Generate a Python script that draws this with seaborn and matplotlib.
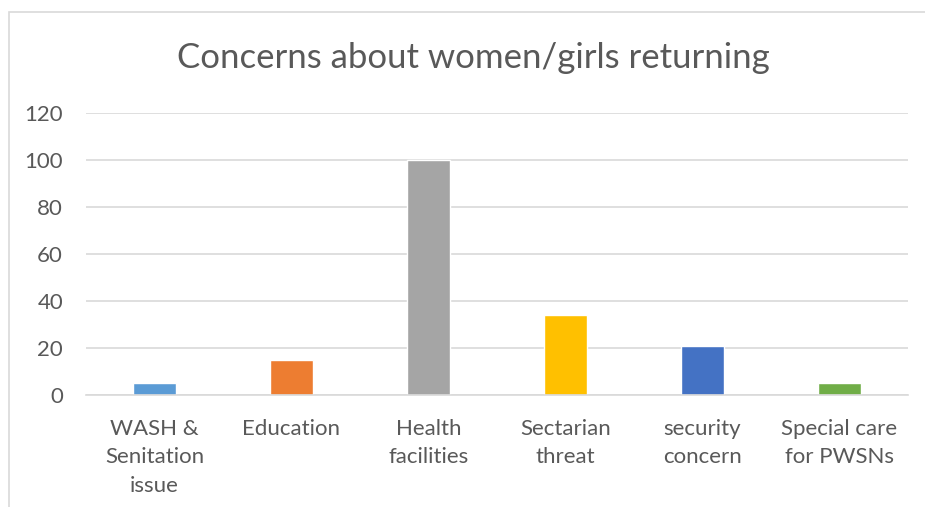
import matplotlib
matplotlib.use("Agg")
import matplotlib.pyplot as plt
import seaborn as sns
import pandas as pd
from matplotlib.patches import Rectangle

categories = ["WASH &\nSenitation\nissue", "Education", "Health\nfacilities",
              "Sectarian\nthreat", "security\nconcern", "Special care\nfor PWSNs"]
values = [5, 15, 100, 34, 21, 5]
colors = ["#5B9BD5", "#ED7D31", "#A5A5A5", "#FFC000", "#4472C4", "#70AD47"]
yticks = [0, 20, 40, 60, 80, 100, 120]
title = "Concerns about women/girls returning"

sns.set_theme(style="white")
plt.rcParams["font.family"] = ["Lato", "DejaVu Sans"]
text_color = "#595959"

df = pd.DataFrame({"category": categories, "value": values})

fig = plt.figure(figsize=(9.25, 5.07), dpi=100)
ax = fig.add_axes([86 / 925, 1 - 395 / 507, (908 - 86) / 925, (395 - 113) / 507])

sns.barplot(data=df, x="category", y="value", hue="category", palette=colors,
            legend=False, width=0.32, ax=ax, saturation=1)

ax.set_ylim(0, 120)
ax.set_yticks(yticks)
ax.set_xlim(-0.5, len(categories) - 0.5)
ax.yaxis.grid(True, color="#D9D9D9", linewidth=1.2)
ax.set_axisbelow(True)
for side in ["top", "right", "left"]:
    ax.spines[side].set_visible(False)
ax.spines["bottom"].set_color("#D9D9D9")
ax.spines["bottom"].set_linewidth(1.2)
ax.set_xlabel("")
ax.set_ylabel("")
ax.tick_params(axis="y", length=0, pad=16.5, labelsize=16, labelcolor=text_color)
ax.tick_params(axis="x", length=0, pad=17, labelsize=16, labelcolor=text_color)
for lbl in ax.get_xticklabels():
    lbl.set_linespacing(1.55)

fig.text(473 / 925, 1 - 58 / 507, title, ha="center", va="center",
         fontsize=25, color=text_color)

# chart frame
fig.patches.append(Rectangle((9 / 925, -0.01), 1.0, 1 - 12 / 507 + 0.01,
                             transform=fig.transFigure, fill=False,
                             edgecolor="#D9D9D9", linewidth=1.2))

fig.savefig("out.png", dpi=100)
